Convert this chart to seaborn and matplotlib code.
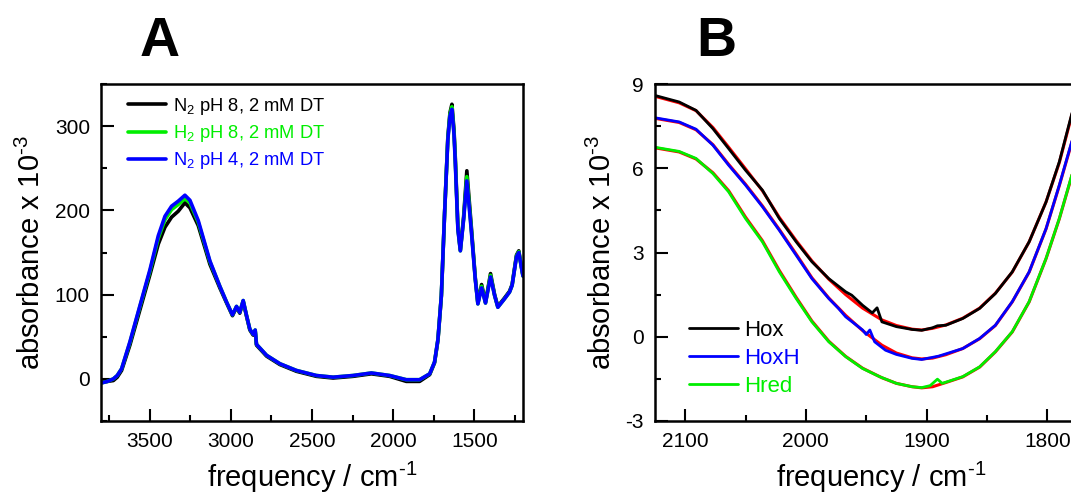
import numpy as np
import pandas as pd
import matplotlib
matplotlib.use('Agg')
import matplotlib.pyplot as plt
import seaborn as sns
from matplotlib.ticker import MultipleLocator

# ---------------- Panel A data (frequency in cm-1, absorbance x 1e-3) -------------
freq_a = [3800, 3760, 3724, 3700, 3673, 3622, 3560, 3498, 3447, 3406, 3365, 3324,
          3283, 3252, 3201, 3129, 3068, 3026, 2990, 2965, 2945, 2924, 2903, 2883,
          2863, 2850, 2842, 2780, 2698, 2596, 2473, 2370, 2247, 2134, 2022, 1919,
          1837, 1775, 1745, 1724, 1703, 1683, 1663, 1650, 1638, 1625, 1617, 1601,
          1586, 1566, 1546, 1519, 1494, 1478, 1455, 1431, 1400, 1375, 1355, 1314,
          1283, 1267, 1240, 1226, 1205, 1200]
n2_ph8 = [-4, -3, -2, 2, 10, 40, 82, 124, 160, 180, 192, 199,
          209, 203, 182, 136, 108, 90, 75, 85, 78, 92, 74, 58,
          52, 57, 40, 27, 17, 9, 3, 1, 3, 6, 3, -3,
          -3, 5, 19, 46, 98, 197, 287, 316, 326, 295, 262, 180,
          153, 192, 247, 182, 120, 90, 112, 91, 125, 100, 86, 96,
          104, 112, 147, 152, 128, 123]
h2_ph8 = [-5, -3, 0, 4, 12, 43, 86, 128, 167, 189, 201, 207,
          214, 209, 186, 139, 110, 91, 76, 86, 79, 93, 75, 59,
          53, 58, 41, 28, 18, 10, 4, 2, 4, 7, 4, -1,
          -1, 6, 20, 47, 99, 197, 285, 314, 323, 292, 259, 178,
          152, 190, 240, 179, 119, 89, 110, 90, 123, 99, 85, 95,
          103, 111, 146, 151, 127, 122]
n2_ph4 = [-5, -3, 0, 4, 12, 44, 87, 130, 170, 193, 205, 211,
          218, 212, 188, 140, 110, 91, 76, 86, 79, 93, 75, 59,
          53, 58, 41, 28, 18, 10, 4, 2, 4, 7, 4, -1,
          -1, 6, 20, 47, 99, 197, 284, 312, 320, 290, 256, 177,
          152, 189, 235, 177, 118, 89, 108, 90, 121, 99, 85, 95,
          103, 111, 145, 150, 127, 122]
labels_a = ['N$_2$ pH 8, 2 mM DT', 'H$_2$ pH 8, 2 mM DT', 'N$_2$ pH 4, 2 mM DT']

# ---------------- Panel B data -------------
hox_x = [2124, 2105, 2091, 2077, 2064, 2050, 2036, 2022, 2008, 1995, 1981, 1967,
         1962, 1953, 1945, 1941, 1937, 1925, 1912, 1904, 1895, 1891, 1884, 1870,
         1856, 1843, 1829, 1815, 1801, 1790, 1779]
hox_y = [8.58, 8.36, 8.06, 7.41, 6.70, 5.93, 5.22, 4.21, 3.38, 2.67, 2.07, 1.60,
         1.48, 1.12, 0.85, 1.03, 0.53, 0.36, 0.26, 0.23, 0.32, 0.39, 0.41, 0.65,
         1.01, 1.54, 2.31, 3.38, 4.80, 6.23, 8.05]
hoxh_x = [2124, 2105, 2091, 2077, 2064, 2050, 2036, 2022, 2008, 1995, 1981, 1973,
          1967, 1953, 1950, 1947, 1943, 1934, 1925, 1912, 1904, 1890, 1870, 1856,
          1843, 1829, 1815, 1801, 1790, 1779]
hoxh_y = [7.79, 7.65, 7.39, 6.82, 6.11, 5.40, 4.63, 3.79, 2.90, 2.07, 1.36, 1.01,
          0.71, 0.24, 0.08, 0.24, -0.18, -0.48, -0.63, -0.77, -0.81, -0.69, -0.42, -0.06,
          0.41, 1.25, 2.31, 3.85, 5.40, 7.05]
hred_x = [2124, 2105, 2091, 2077, 2064, 2050, 2036, 2022, 2008, 1995, 1981, 1967,
          1953, 1939, 1925, 1912, 1904, 1897, 1891, 1887, 1870, 1856, 1843, 1829,
          1815, 1801, 1790, 1779]
hred_y = [6.74, 6.60, 6.35, 5.81, 5.16, 4.21, 3.38, 2.31, 1.36, 0.53, -0.18, -0.71,
          -1.13, -1.42, -1.66, -1.78, -1.81, -1.74, -1.51, -1.66, -1.42, -1.07, -0.53, 0.18,
          1.25, 2.79, 4.21, 5.85]
fit_x = [2124, 2105, 2091, 2077, 2064, 2050, 2036, 2022, 2008, 1995, 1981, 1967,
         1953, 1937, 1925, 1912, 1904, 1895, 1884, 1870, 1856, 1843, 1829, 1815,
         1801, 1790, 1779]
hox_fit = [8.55, 8.33, 8.05, 7.45, 6.75, 5.98, 5.20, 4.25, 3.42, 2.70, 2.05, 1.50,
           1.02, 0.60, 0.40, 0.27, 0.24, 0.30, 0.42, 0.66, 1.02, 1.55, 2.30, 3.38,
           4.80, 6.20, 8.00]
hoxh_fit = [7.77, 7.63, 7.37, 6.84, 6.14, 5.43, 4.66, 3.82, 2.94, 2.10, 1.38, 0.76,
            0.22, -0.30, -0.58, -0.75, -0.79, -0.76, -0.64, -0.42, -0.07, 0.40, 1.24,
            2.30, 3.84, 5.38, 7.02]
hred_fit = [6.72, 6.58, 6.33, 5.84, 5.20, 4.26, 3.42, 2.36, 1.40, 0.56, -0.16, -0.70,
            -1.12, -1.46, -1.66, -1.78, -1.82, -1.78, -1.63, -1.43, -1.08, -0.54, 0.17,
            1.24, 2.78, 4.20, 5.83]
labels_b = ['Hox', 'HoxH', 'Hred']

colors = {'black': '#000000', 'green': '#00ee00', 'blue': '#0000ff', 'red': '#ff0000'}

sns.set_style('ticks')
plt.rcParams['font.family'] = ['Liberation Sans', 'DejaVu Sans']
plt.rcParams['mathtext.fontset'] = 'custom'
plt.rcParams['mathtext.rm'] = 'Liberation Sans'
plt.rcParams['mathtext.it'] = 'Liberation Sans:italic'
plt.rcParams['mathtext.default'] = 'regular'
plt.rcParams['axes.unicode_minus'] = False
plt.rcParams['text.color'] = 'black'
plt.rcParams['axes.labelcolor'] = 'black'
plt.rcParams['xtick.color'] = 'black'
plt.rcParams['ytick.color'] = 'black'

fig = plt.figure(figsize=(10.71, 4.96), dpi=100)
axA = fig.add_axes([101/1071, 1 - 421/496, 422/1071, 337/496])
axB = fig.add_axes([655/1071, 1 - 421/496, 452.6/1071, 337/496])

ylab = r'absorbance x 10$^{\text{-3}}$'
xlab = r'frequency / cm$^{\text{-1}}$'

# ---- Panel A
for yv, c, lab in [(n2_ph8, 'black', labels_a[0]), (h2_ph8, 'green', labels_a[1]),
                   (n2_ph4, 'blue', labels_a[2])]:
    sns.lineplot(x=freq_a, y=yv, sort=False, estimator=None, color=colors[c],
                 lw=2.6, label=lab, ax=axA)
axA.set_xlim(3800, 1200)
axA.set_ylim(-50, 350)
axA.xaxis.set_major_locator(MultipleLocator(500))
axA.xaxis.set_minor_locator(MultipleLocator(250))
axA.yaxis.set_major_locator(MultipleLocator(100))
axA.yaxis.set_minor_locator(MultipleLocator(50))
axA.set_xlabel(xlab, fontsize=21, labelpad=6)
axA.set_ylabel(ylab, fontsize=21, labelpad=6)
axA.legend(loc='upper left', bbox_to_anchor=(0.063, 0.965), frameon=False,
           fontsize=13.2, handlelength=2.1, handletextpad=0.4,
           labelspacing=0.34, borderpad=0, borderaxespad=0,
           labelcolor='linecolor')

# ---- Panel B
for fx, fy in [(fit_x, hox_fit), (fit_x, hoxh_fit), (fit_x, hred_fit)]:
    sns.lineplot(x=fx, y=fy, sort=False, estimator=None, color=colors['red'],
                 lw=2.2, ax=axB)
lines_b = []
for xv, yv, c, lab in [(hox_x, hox_y, 'black', labels_b[0]),
                       (hoxh_x, hoxh_y, 'blue', labels_b[1]),
                       (hred_x, hred_y, 'green', labels_b[2])]:
    sns.lineplot(x=xv, y=yv, sort=False, estimator=None, color=colors[c],
                 lw=2.0, ax=axB)
    lines_b.append(axB.lines[-1])
axB.set_xlim(2125, 1750)
axB.set_ylim(-3, 9)
axB.xaxis.set_major_locator(MultipleLocator(100))
axB.xaxis.set_minor_locator(MultipleLocator(50))
axB.yaxis.set_major_locator(MultipleLocator(3))
axB.yaxis.set_minor_locator(MultipleLocator(1.5))
axB.set_xlabel(xlab, fontsize=21, labelpad=6)
axB.set_ylabel(ylab, fontsize=21, labelpad=6)
axB.legend(lines_b, labels_b, loc='upper left', bbox_to_anchor=(0.075, 0.30),
           frameon=False, fontsize=16, handlelength=2.2, handletextpad=0.3,
           labelspacing=0.32, borderpad=0, borderaxespad=0, labelcolor='linecolor')

for ax in (axA, axB):
    for s in ax.spines.values():
        s.set_linewidth(1.8)
        s.set_color('black')
    ax.tick_params(which='both', direction='in', top=False, right=False,
                   width=1.5, colors='black')
    ax.tick_params(which='major', length=9, labelsize=15, pad=8)
    ax.tick_params(which='minor', length=4)

fig.text(160/1071, 1 - 42/496, 'A', fontsize=40, fontweight='bold', ha='center',
         va='center', color='black')
fig.text(716/1071, 1 - 42/496, 'B', fontsize=40, fontweight='bold', ha='center',
         va='center', color='black')

fig.savefig('out.png', dpi=100)
